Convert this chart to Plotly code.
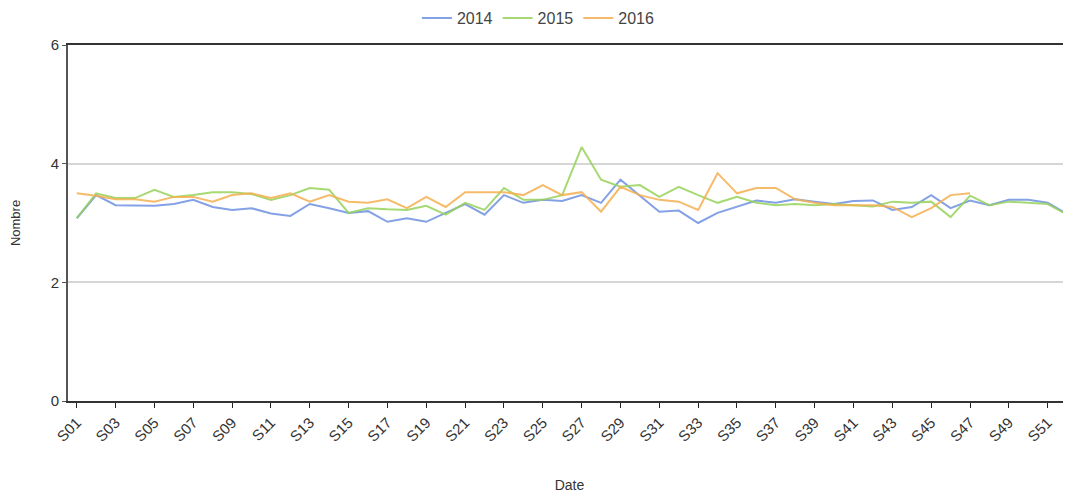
import plotly.graph_objects as go

weeks = ["S%02d" % i for i in range(1, 53)]

y2014 = [3.08, 3.47, 3.30, 3.29, 3.29, 3.32, 3.39, 3.27, 3.22, 3.25,
         3.16, 3.12, 3.32, 3.25, 3.17, 3.20, 3.02, 3.08, 3.02, 3.17,
         3.32, 3.14, 3.47, 3.34, 3.39, 3.37, 3.47, 3.34, 3.73, 3.46,
         3.19, 3.21, 3.00, 3.17, 3.27, 3.38, 3.34, 3.40, 3.36, 3.32,
         3.37, 3.38, 3.22, 3.27, 3.47, 3.25, 3.38, 3.30, 3.39, 3.39,
         3.34, 3.15]

y2015 = [3.08, 3.50, 3.42, 3.42, 3.56, 3.44, 3.47, 3.52, 3.52, 3.49,
         3.39, 3.47, 3.59, 3.56, 3.17, 3.25, 3.23, 3.22, 3.29, 3.14,
         3.34, 3.22, 3.59, 3.39, 3.39, 3.47, 4.28, 3.73, 3.61, 3.64,
         3.44, 3.61, 3.47, 3.34, 3.44, 3.34, 3.30, 3.32, 3.30, 3.32,
         3.30, 3.28, 3.36, 3.34, 3.36, 3.10, 3.46, 3.30, 3.36, 3.34,
         3.32, 3.14]

y2016 = [3.50, 3.46, 3.40, 3.40, 3.36, 3.44, 3.44, 3.36, 3.47, 3.50,
         3.42, 3.50, 3.36, 3.47, 3.36, 3.34, 3.40, 3.25, 3.44, 3.27,
         3.52, 3.52, 3.52, 3.47, 3.64, 3.47, 3.52, 3.19, 3.61, 3.47,
         3.39, 3.36, 3.22, 3.84, 3.50, 3.59, 3.59, 3.40, 3.34, 3.30,
         3.30, 3.30, 3.27, 3.10, 3.25, 3.47, 3.50]

tick_labels = weeks[::2]

fig = go.Figure()
series = [("2014", y2014, "rgba(110,145,225,0.85)"),
          ("2015", y2015, "rgba(150,210,90,0.85)"),
          ("2016", y2016, "rgba(245,175,80,0.85)")]
for name, ys, col in series:
    fig.add_trace(go.Scatter(x=weeks[:len(ys)], y=ys, mode="lines", name=name,
                             line=dict(color=col, width=2)))

fig.update_layout(
    width=1063, height=485,
    margin=dict(l=60, r=0, t=37, b=92, autoexpand=False),
    paper_bgcolor="white", plot_bgcolor="white",
    font=dict(family="Liberation Sans, Arial, sans-serif", size=14, color="#333"),
    legend=dict(orientation="h", x=0.469, xanchor="center",
                yref="container", y=0.979, yanchor="middle",
                font=dict(size=16, color="#444")),
    showlegend=True,
)
fig.update_xaxes(
    type="category", categoryorder="array", categoryarray=weeks,
    range=[-0.45, 51.2], automargin=False,
    tickmode="array", tickvals=tick_labels, ticktext=tick_labels,
    tickangle=-45, ticks="outside", ticklen=5, tickcolor="#222", tickwidth=1,
    showline=True, linecolor="#333", linewidth=2, mirror=True,
    showgrid=False, zeroline=False,
    tickfont=dict(size=15, color="#333"),
    title=dict(text="Date", font=dict(size=14, color="#333"), standoff=38),
)
fig.update_yaxes(
    range=[0, 6], tickvals=[0, 2, 4, 6], ticktext=["0", "2", "4", "6"],
    automargin=False,
    showline=True, linecolor="#555", linewidth=2,
    ticks="outside", ticklen=4, tickcolor="#555",
    showgrid=True, gridcolor="#d6d6d6", gridwidth=2, zeroline=False,
    tickfont=dict(size=15, color="#333"),
    title=dict(text="Nombre", font=dict(size=13, color="#333"), standoff=32),
)

fig.write_html("out.html")
